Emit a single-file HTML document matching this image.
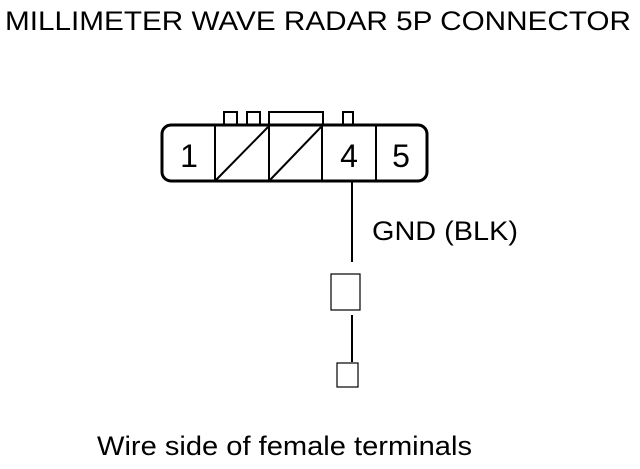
<!DOCTYPE html>
<html><head><style>
body{margin:0;background:#fff;width:640px;height:464px;overflow:hidden}
</style></head><body>
<svg width="640" height="464" xmlns="http://www.w3.org/2000/svg" font-family="Liberation Sans, sans-serif">
<text x="318" y="30" font-size="27" text-anchor="middle" textLength="626" lengthAdjust="spacingAndGlyphs">MILLIMETER WAVE RADAR 5P CONNECTOR</text>
<g fill="none" stroke="#000" stroke-width="2">
<rect x="224" y="112" width="13" height="13"/>
<rect x="247" y="112" width="13" height="13"/>
<rect x="269" y="112" width="54" height="13"/>
<rect x="343" y="112" width="10" height="13"/>
</g>
<rect x="162" y="125" width="265" height="56" rx="9" fill="#fff" stroke="#000" stroke-width="3"/>
<g stroke="#000" stroke-width="2">
<line x1="215" y1="125" x2="215" y2="181"/>
<line x1="269" y1="125" x2="269" y2="181"/>
<line x1="322" y1="125" x2="322" y2="181"/>
<line x1="376" y1="125" x2="376" y2="181"/>
<line x1="216" y1="180" x2="268" y2="127"/>
<line x1="270" y1="180" x2="321" y2="127"/>
<line x1="352" y1="182" x2="352" y2="262"/>
<line x1="352" y1="315" x2="352" y2="362"/>
</g>
<g fill="none" stroke="#000" stroke-width="1.2">
<rect x="331" y="274" width="29" height="36"/>
<rect x="337" y="363" width="21" height="24"/>
</g>
<g font-size="32" text-anchor="middle">
<text x="189" y="167">1</text>
<text x="349" y="167">4</text>
<text x="401" y="167">5</text>
</g>
<text x="372" y="240" font-size="27" textLength="146" lengthAdjust="spacingAndGlyphs">GND (BLK)</text>
<text x="97" y="455" font-size="27" textLength="375" lengthAdjust="spacingAndGlyphs">Wire side of female terminals</text>
</svg>
</body></html>
